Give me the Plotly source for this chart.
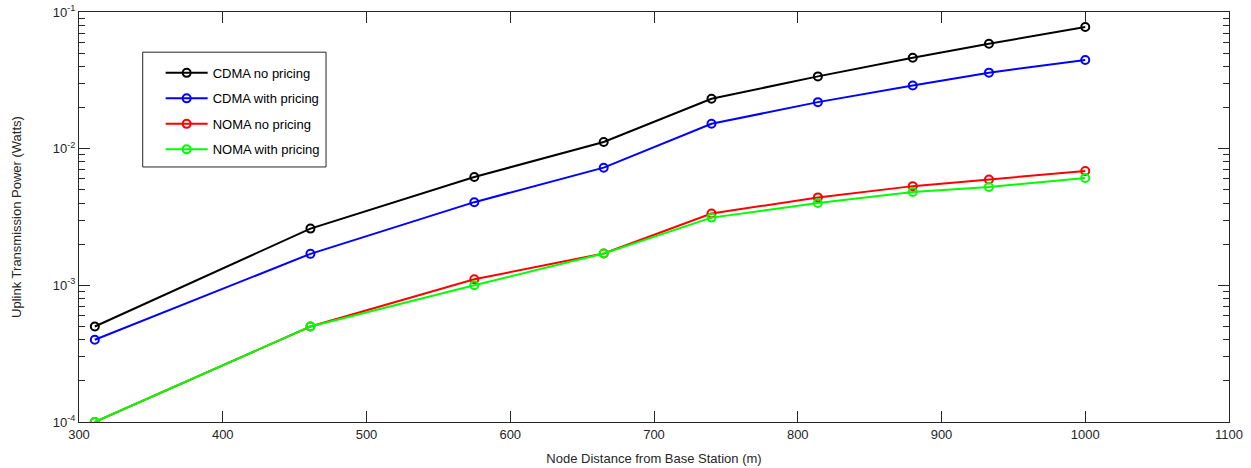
import plotly.graph_objects as go

distance = [311, 461, 575, 665, 740, 814, 880, 933, 1000]
cdma_no_pricing = [5.0e-4, 2.6e-3, 6.2e-3, 1.12e-2, 2.32e-2, 3.38e-2, 4.63e-2, 5.86e-2, 7.76e-2]
cdma_with_pricing = [4.0e-4, 1.7e-3, 4.06e-3, 7.26e-3, 1.52e-2, 2.19e-2, 2.90e-2, 3.60e-2, 4.45e-2]
noma_no_pricing = [1.0e-4, 5.0e-4, 1.107e-3, 1.71e-3, 3.35e-3, 4.4e-3, 5.32e-3, 5.95e-3, 6.86e-3]
noma_with_pricing = [1.0e-4, 5.0e-4, 1.0e-3, 1.71e-3, 3.13e-3, 4.0e-3, 4.82e-3, 5.24e-3, 6.1e-3]

series_names = ["CDMA no pricing", "CDMA with pricing", "NOMA no pricing", "NOMA with pricing"]
series_colors = ["#000000", "#0000FF", "#FF0000", "#00FF00"]
series_values = [cdma_no_pricing, cdma_with_pricing, noma_no_pricing, noma_with_pricing]

x_ticks = [300, 400, 500, 600, 700, 800, 900, 1000, 1100]
y_ticks = [1e-4, 1e-3, 1e-2, 1e-1]
y_ticktext = ["10<sup>-4</sup>", "10<sup>-3</sup>", "10<sup>-2</sup>", "10<sup>-1</sup>"]
y_minor = [m * 10.0 ** e for e in (-4, -3, -2) for m in range(2, 10)]

FONT = "Liberation Sans, Arial, Helvetica, sans-serif"
AX = "#262626"

fig = go.Figure()
for i, (name, color, vals) in enumerate(zip(series_names, series_colors, series_values)):
    fig.add_trace(go.Scatter(
        x=distance, y=vals, name=name, mode="lines+markers",
        line=dict(color=color, width=2),
        marker=dict(symbol="circle-open", size=8, color=color, line=dict(width=2, color=color)),
        legendgroup=f"g{i}",
    ))

# legend frame (MATLAB style box)
fig.add_shape(type="rect", xref="paper", yref="paper",
              x0=0.0554, x1=0.2148, y0=0.622, y1=0.902,
              line=dict(color=AX, width=1), fillcolor="white", layer="above")

fig.update_layout(
    width=1251, height=468,
    margin=dict(l=79, r=22, t=12, b=46, autoexpand=False),
    paper_bgcolor="white", plot_bgcolor="white",
    font=dict(family=FONT, size=13, color=AX),
    showlegend=True,
    legend=dict(
        x=0.0710, y=0.888, xanchor="left", yanchor="top",
        borderwidth=0, bgcolor="rgba(0,0,0,0)",
        font=dict(family=FONT, size=13, color="#000000"),
        tracegroupgap=5.6, itemwidth=42,
    ),
    xaxis=dict(
        range=[300, 1100], tickvals=x_ticks, ticks="inside", ticklen=11,
        tickcolor=AX, showline=True, linecolor=AX, linewidth=1, mirror="allticks",
        showgrid=False, zeroline=False, automargin=False,
        tickfont=dict(family=FONT, size=13, color=AX),
        title=dict(text="Node Distance from Base Station (m)", font=dict(family=FONT, size=13, color=AX), standoff=13),
    ),
    yaxis=dict(
        type="log", range=[-4, -1], tickvals=y_ticks, ticktext=y_ticktext,
        ticks="inside", ticklen=11, tickcolor=AX,
        showline=True, linecolor=AX, linewidth=1, mirror="allticks",
        showgrid=False, zeroline=False, automargin=False,
        tickfont=dict(family=FONT, size=13, color=AX),
        minor=dict(tickvals=y_minor, ticks="inside", ticklen=6, tickcolor=AX, showgrid=False),
        title=dict(text="Uplink Transmission Power (Watts)", font=dict(family=FONT, size=13, color=AX), standoff=28),
    ),
)

fig.write_html("out.html")
